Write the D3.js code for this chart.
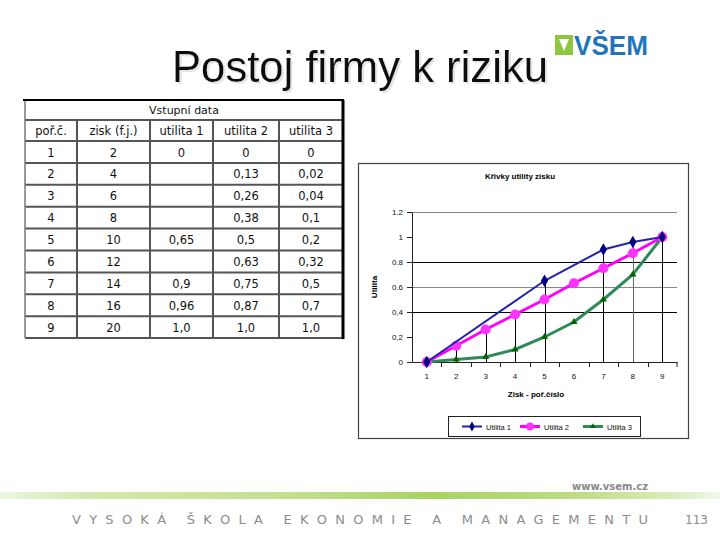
<!DOCTYPE html>
<html><head><meta charset="utf-8">
<script src="https://cdn.jsdelivr.net/npm/d3@7"></script>
<style>body{margin:0;background:#fff} svg{display:block}</style>
</head><body><svg id="c" width="720" height="540"></svg>
<script>
// ---- data ----
const categories = [1,2,3,4,5,6,7,8,9];
const zisk = [2,4,6,8,10,12,14,16,20];
const utilita1 = [0,null,null,null,0.65,null,0.9,0.96,1.0];
const utilita2 = [0,0.13,0.26,0.38,0.5,0.63,0.75,0.87,1.0];
const utilita3 = [0,0.02,0.04,0.1,0.2,0.32,0.5,0.7,1.0];
const tableHeaders = ["poř.č.","zisk (f.j.)","utilita 1","utilita 2","utilita 3"];
const seriesNames = ["Utilita 1","Utilita 2","Utilita 3"];
const yTicks = [0,0.2,0.4,0.6,0.8,1,1.2];
const yTickLabels = ["0","0,2","0,4","0.6","0.8","1","1.2"];
const gridValues = [0.4,0.6,0.8,1.2];
const dropCategories = [2,3,4,5,7,8,9];
const footerWords = ["VYSOKÁ","ŠKOLA","EKONOMIE","A","MANAGEMENTU"];

const svg = d3.select("#c");
svg.append("rect").attr("width",720).attr("height",540).attr("fill","#fff");
const defs = svg.append("defs");
const sh = defs.append("filter").attr("id","tshadow").attr("x","-5%").attr("y","-10%").attr("width","115%").attr("height","130%");
sh.append("feOffset").attr("in","SourceAlpha").attr("dx",2).attr("dy",2).attr("result","off");
sh.append("feColorMatrix").attr("in","off").attr("type","matrix")
  .attr("values","0 0 0 0 0.78  0 0 0 0 0.78  0 0 0 0 0.78  0 0 0 1 0").attr("result","sc");
const fm = sh.append("feMerge"); fm.append("feMergeNode").attr("in","sc"); fm.append("feMergeNode").attr("in","SourceGraphic");

// ---- title ----
const titleFont = "'Liberation Sans', Arial, sans-serif";
svg.append("text").attr("x",360).attr("y",82).attr("text-anchor","middle")
  .attr("font-family",titleFont).attr("font-size",44).attr("fill","#111").attr("filter","url(#tshadow)")
  .attr("textLength",376).attr("lengthAdjust","spacingAndGlyphs").text("Postoj firmy k riziku");

// ---- logo ----
const logo = svg.append("g");
logo.append("path").attr("d","M555,35 h18 v20 h-18 z").attr("fill","#8dc63f");
logo.append("path").attr("d","M559,39 h10 l-5,12 z").attr("fill","#fff");
logo.append("text").attr("x",574).attr("y",55).attr("font-family",titleFont)
  .attr("font-weight","bold").attr("font-size",27).attr("fill","#1f74bb")
  .attr("textLength",74).attr("lengthAdjust","spacingAndGlyphs").text("VŠEM");

// ---- table ----
const tFont = "'DejaVu Sans', Verdana, sans-serif";
const colX = [25,77,150,213,279,343];
const tTop = 100, titleRowB = 120, headRowB = 141, rowH = 21.9;
const nRows = categories.length;
const tBottom = headRowB + nRows*rowH;
const fmt = v => v===null ? "" : (v===1 ? "1,0" : String(v).replace(".",","));
const tableRows = categories.map((c,i)=>[String(c), String(zisk[i]), fmt(utilita1[i]), fmt(utilita2[i]), fmt(utilita3[i])]);
const tg = svg.append("g");
[titleRowB, headRowB, ...d3.range(1,nRows+1).map(k=>headRowB+k*rowH)].forEach(yy=>{
  tg.append("line").attr("x1",colX[0]).attr("x2",colX[5]).attr("y1",yy).attr("y2",yy)
    .attr("stroke","#555").attr("stroke-width",2);
});
colX.slice(1,5).forEach(xx=>{
  tg.append("line").attr("x1",xx).attr("x2",xx).attr("y1",titleRowB).attr("y2",tBottom)
    .attr("stroke","#555").attr("stroke-width",2);
});
tg.append("line").attr("x1",colX[0]).attr("x2",colX[0]).attr("y1",tTop).attr("y2",tBottom).attr("stroke","#777").attr("stroke-width",1.5);
tg.append("line").attr("x1",colX[0]-2).attr("x2",colX[5]+1).attr("y1",tTop).attr("y2",tTop).attr("stroke","#000").attr("stroke-width",2);
tg.append("line").attr("x1",colX[5]).attr("x2",colX[5]).attr("y1",tTop).attr("y2",tBottom+1).attr("stroke","#000").attr("stroke-width",3);
tg.append("text").attr("x",(colX[0]+colX[5])/2).attr("y",114).attr("text-anchor","middle")
  .attr("font-family",tFont).attr("font-size",11).attr("fill","#111").text("Vstupní data");
tableHeaders.forEach((h,j)=>{
  tg.append("text").attr("x",(colX[j]+colX[j+1])/2).attr("y",135).attr("text-anchor","middle")
    .attr("font-family",tFont).attr("font-size",11.5).attr("fill","#111").text(h);
});
tableRows.forEach((r,i)=>{
  r.forEach((v,j)=>{
    tg.append("text").attr("x",(colX[j]+colX[j+1])/2).attr("y",headRowB+i*rowH+15.5)
      .attr("text-anchor","middle").attr("font-family",tFont).attr("font-size",11.5)
      .attr("fill","#111").text(v);
  });
});

// ---- chart ----
const cFont = "Arial, 'Liberation Sans', sans-serif";
const cg = svg.append("g");
cg.append("rect").attr("x",358.5).attr("y",163.5).attr("width",330).attr("height",275)
  .attr("fill","#fff").attr("stroke","#444").attr("stroke-width",1.2);
cg.append("text").attr("x",520).attr("y",179).attr("text-anchor","middle")
  .attr("font-family",cFont).attr("font-size",8).attr("font-weight","bold").text("Křivky utility zisku");

const x = d3.scaleBand().domain(categories).range([412,677]);
const y = d3.scaleLinear().domain([0,1.2]).range([362,212]);
const cx = c => x(c) + x.bandwidth()/2;

cg.selectAll(".grid").data(gridValues).join("line")
  .attr("x1",412).attr("x2",677).attr("y1",d=>Math.round(y(d))+0.5).attr("y2",d=>Math.round(y(d))+0.5)
  .attr("stroke",(d,i)=> i%2===0 ? "#000" : "#888").attr("stroke-width",1);

const seriesArr = [utilita1, utilita2, utilita3];
cg.selectAll(".drop").data(dropCategories).join("line")
  .attr("x1",d=>Math.round(cx(d))+0.5).attr("x2",d=>Math.round(cx(d))+0.5)
  .attr("y1",y(0)).attr("y2",d=>{const i=categories.indexOf(d); return y(d3.max(seriesArr,s=>s[i]));})
  .attr("stroke",d=> d===8 ? "#666" : "#000").attr("stroke-width",1);

const yAxis = cg.append("g").attr("transform","translate(412,0)")
  .call(d3.axisLeft(y).tickValues(yTicks).tickFormat((d,i)=>yTickLabels[i]).tickSize(5).tickSizeOuter(0).tickPadding(4));
yAxis.selectAll("text").attr("font-family",cFont).attr("font-size",8).attr("fill","#111");
yAxis.selectAll("line,path").attr("stroke","#222");

const xAxis = cg.append("g").attr("transform",`translate(0,${y(0)})`)
  .call(d3.axisBottom(x).tickSize(0).tickPadding(11));
xAxis.select(".domain").attr("stroke","#222");
xAxis.selectAll("text").attr("font-family",cFont).attr("font-size",8).attr("fill","#111");
cg.selectAll(".xb").data(categories.slice(1).concat(["end"])).join("line")
  .attr("x1",d=> d==="end" ? 677 : Math.round(x(d))+0.5).attr("x2",d=> d==="end" ? 677 : Math.round(x(d))+0.5)
  .attr("y1",y(0)).attr("y2",y(0)+5).attr("stroke","#222");

cg.append("text").attr("x",377).attr("y",287).attr("transform","rotate(-90,377,287)")
  .attr("text-anchor","middle").attr("font-family",cFont).attr("font-size",8).attr("font-weight","bold").text("Utilita");
cg.append("text").attr("x",536).attr("y",397).attr("text-anchor","middle")
  .attr("font-family",cFont).attr("font-size",8).attr("font-weight","bold").text("Zisk - poř.číslo");

const styles = [
  {line:"#2424a8", width:2, marker:"diamond", fill:"#000080", size:46},
  {line:"#ff00ff", width:3, marker:"circle", fill:"#ff33ff", size:80},
  {line:"#2e8b57", width:3, marker:"triangle", fill:"#006400", size:22}
];
const symMap = {diamond:d3.symbolDiamond, circle:d3.symbolCircle, triangle:d3.symbolTriangle};
[2,1,0].forEach(si=>{
  const s = seriesArr[si], st = styles[si];
  const pts = categories.map((c,i)=>({c, v:s[i]})).filter(p=>p.v!==null);
  cg.append("path").datum(pts).attr("fill","none").attr("stroke",st.line).attr("stroke-width",st.width)
    .attr("d",d3.line().x(p=>cx(p.c)).y(p=>y(p.v)));
  cg.selectAll(".m"+si).data(pts).join("path")
    .attr("transform",p=>`translate(${cx(p.c)},${y(p.v)})`)
    .attr("d",d3.symbol().type(symMap[st.marker]).size(st.size)).attr("fill",st.fill);
});

const lg = cg.append("g");
lg.append("rect").attr("x",448.5).attr("y",416.5).attr("width",192).attr("height",20)
  .attr("fill","#fff").attr("stroke","#222").attr("stroke-width",1);
const legX = [462,520,583];
seriesNames.forEach((n,i)=>{
  const st = styles[i];
  lg.append("line").attr("x1",legX[i]).attr("x2",legX[i]+20).attr("y1",426.5).attr("y2",426.5)
    .attr("stroke",st.line).attr("stroke-width",st.width);
  lg.append("path").attr("transform",`translate(${legX[i]+10},426.5)`)
    .attr("d",d3.symbol().type(symMap[st.marker]).size(st.size*0.6)).attr("fill",st.fill);
  lg.append("text").attr("x",legX[i]+24).attr("y",429.5).attr("font-family",cFont)
    .attr("font-size",7.5).attr("fill","#111").text(n);
});

// ---- footer ----
const gr = defs.append("linearGradient").attr("id","fbar");
[[0,"#eef6e2"],[0.12,"#d3e9ad"],[0.4,"#c2e08f"],[0.6,"#a9d264"],[0.8,"#bcdd84"],[0.93,"#d8ecb8"],[1,"#f2f8ea"]]
  .forEach(([o,c])=>gr.append("stop").attr("offset",o).attr("stop-color",c));
svg.append("rect").attr("x",0).attr("y",492).attr("width",720).attr("height",7).attr("fill","url(#fbar)");
svg.append("text").attr("x",648).attr("y",490).attr("text-anchor","end").attr("font-family","'DejaVu Sans', sans-serif")
  .attr("font-weight","bold").attr("font-size",10).attr("fill","#8a8a8a").text("www.vsem.cz");
const NB = "\u00A0";
const footerText = footerWords.map(w=>w.split("").join(NB)).join(NB+NB+NB);
svg.append("text").attr("x",72).attr("y",524).attr("font-family","'DejaVu Sans', sans-serif")
  .attr("font-size",13).attr("fill","#8c8c8c").attr("textLength",576).attr("lengthAdjust","spacing")
  .text(footerText);
svg.append("text").attr("x",708).attr("y",524).attr("text-anchor","end").attr("font-family","'DejaVu Sans', sans-serif")
  .attr("font-size",12).attr("fill","#8c8c8c").text("113");
</script></body></html>
